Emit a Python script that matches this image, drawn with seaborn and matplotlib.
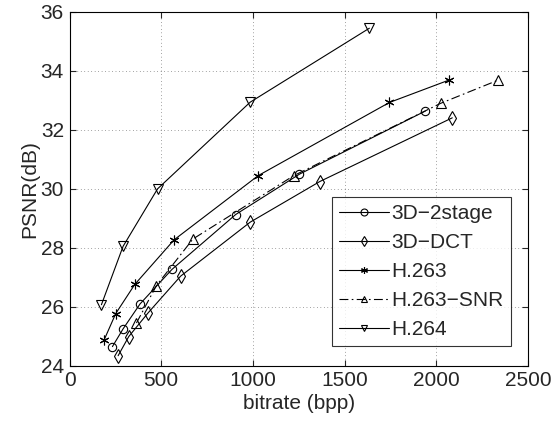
import numpy as np
import pandas as pd
import matplotlib
matplotlib.use("Agg")
import matplotlib.pyplot as plt
import seaborn as sns

# 数据
stage2_x = [234, 292, 385, 559, 906, 1254, 1940]
stage2_y = [24.65, 25.25, 26.10, 27.27, 29.13, 30.50, 32.64]
dct_x = [265, 323, 428, 606, 985, 1365, 2087]
dct_y = [24.34, 24.99, 25.79, 27.04, 28.87, 30.25, 32.41]
h263_x = [189, 252, 356, 570, 1029, 1744, 2069]
h263_y = [24.88, 25.77, 26.76, 28.27, 30.45, 32.93, 33.69]
snr_x = [365, 474, 673, 1223, 2023, 2338]
snr_y = [25.45, 26.72, 28.30, 30.45, 32.90, 33.69]
h264_x = [174, 292, 480, 985, 1635]
h264_y = [26.07, 28.05, 30.00, 32.94, 35.45]

labels = ['3D\u22122stage', '3D\u2212DCT', 'H.263', 'H.263\u2212SNR', 'H.264']
xticks = [0, 500, 1000, 1500, 2000, 2500]
yticks = [24, 26, 28, 30, 32, 34, 36]

sns.set_style("ticks")
plt.rcParams['font.family'] = ['Liberation Sans', 'DejaVu Sans']
plt.rcParams['xtick.direction'] = 'in'
plt.rcParams['ytick.direction'] = 'in'

fig = plt.figure(figsize=(5.53, 4.24), dpi=100)
ax = fig.add_axes([0.1257, 0.1374, 0.8291, 0.8343])

series = [
    (stage2_x, stage2_y, 'o', '-', 6),
    (dct_x, dct_y, 'd', '-', 7),
    (h263_x, h263_y, (6, 2, 0), '-', 7),
    (snr_x, snr_y, '^', (0, (8, 3, 1.5, 3)), 7),
    (h264_x, h264_y, 'v', '-', 7),
]

for (xs, ys, mk, ls, ms), lab in zip(series, labels):
    sns.lineplot(x=xs, y=ys, ax=ax, color='k', linewidth=0.8, linestyle=ls,
                 marker=mk, markersize=ms, markerfacecolor='none',
                 markeredgecolor='k', markeredgewidth=0.8, label=lab,
                 sort=False)

ax.set_xlim(0, 2500)
ax.set_ylim(24, 36)
ax.set_xticks(xticks)
ax.set_yticks(yticks)
ax.tick_params(labelsize=15, top=True, right=True, length=4, width=0.8, pad=4)
ax.grid(True, linestyle=(0, (1, 4)), color='k', linewidth=0.5, alpha=0.7)
for s in ax.spines.values():
    s.set_linewidth(0.8)
    s.set_color('k')
ax.set_xlabel('bitrate (bpp)', fontsize=15, labelpad=3)
ax.set_ylabel('PSNR(dB)', fontsize=15, labelpad=1)

leg = ax.legend(loc='lower right', bbox_to_anchor=(0.963, 0.055), fontsize=15,
                frameon=True, fancybox=False, edgecolor='k', handlelength=2.4,
                handletextpad=0.12, borderpad=0.35, labelspacing=0.48,
                borderaxespad=0)
leg.get_frame().set_linewidth(0.8)
for h in leg.get_lines():
    h.set_markersize(5)

fig.savefig('out.png', dpi=100)
